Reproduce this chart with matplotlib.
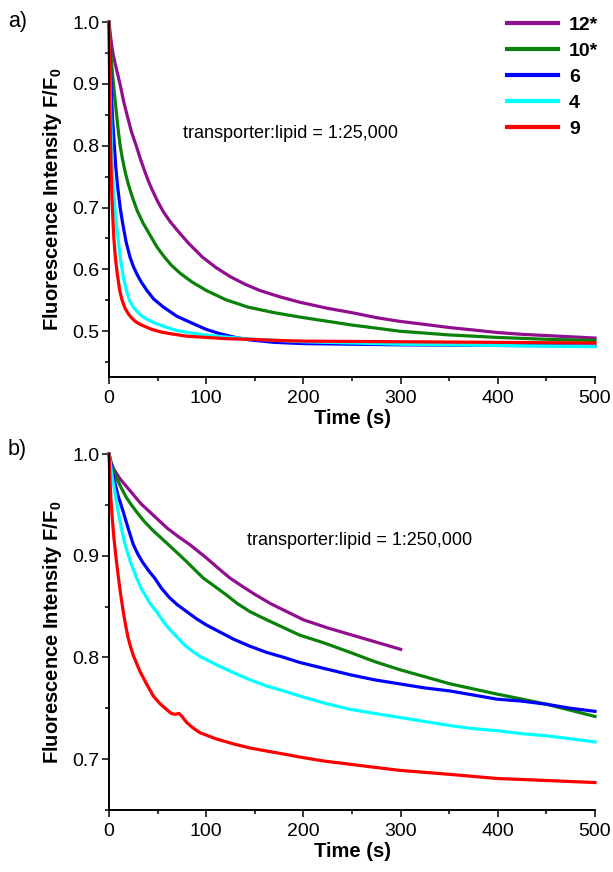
import matplotlib
matplotlib.use("Agg")
import matplotlib.pyplot as plt
from matplotlib.ticker import MultipleLocator

plt.rcParams['font.family'] = ['Liberation Sans', 'DejaVu Sans']
plt.rcParams['mathtext.fontset'] = 'custom'
plt.rcParams['mathtext.rm'] = 'Liberation Sans'
plt.rcParams['mathtext.bf'] = 'Liberation Sans:bold'

labels = ["12*", "10*", "6", "4", "9"]
colors = ["#8f0f8f", "#0a820a", "#0000ff", "#00ffff", "#ff0000"]

# Panel a (transporter:lipid = 1:25,000)
a_t_12 = [0, 1, 2.5, 4, 6, 9, 12, 15, 18.5, 23, 28, 32, 36, 40, 44, 50, 56, 63, 72, 82, 96, 110,
          125, 140, 155, 175, 196, 225, 250, 275, 299, 325, 350, 375, 399, 425, 450, 475, 500]
a_f_12 = [1.0, 0.985, 0.965, 0.95, 0.935, 0.915, 0.895, 0.872, 0.85, 0.823, 0.8, 0.78, 0.762,
          0.745, 0.73, 0.71, 0.693, 0.677, 0.66, 0.642, 0.62, 0.603, 0.588, 0.576, 0.566, 0.556,
          0.547, 0.537, 0.53, 0.522, 0.516, 0.511, 0.506, 0.502, 0.498, 0.495, 0.493, 0.491, 0.489]
a_t_10 = [0, 1, 2.5, 4, 5.5, 7.5, 9.5, 11.5, 14, 17, 20, 24, 29, 35, 42, 49, 56, 64, 73, 85, 100,
          120, 143, 170, 196, 225, 250, 275, 299, 325, 350, 375, 399, 450, 500]
a_f_10 = [1.0, 0.97, 0.935, 0.91, 0.885, 0.855, 0.825, 0.8, 0.777, 0.755, 0.737, 0.717, 0.695,
          0.675, 0.656, 0.637, 0.622, 0.607, 0.594, 0.58, 0.566, 0.551, 0.539, 0.53, 0.523, 0.516,
          0.51, 0.505, 0.5, 0.497, 0.494, 0.492, 0.49, 0.487, 0.485]
a_t_6 = [0, 1, 2, 3, 4, 5.5, 7, 9, 11.5, 14, 17.5, 21.6, 25, 28.5, 33, 39, 46, 56, 70, 87, 100,
         114, 130, 145, 170, 200, 250, 300, 400, 500]
a_f_6 = [1.0, 0.95, 0.905, 0.865, 0.835, 0.8, 0.765, 0.732, 0.7, 0.675, 0.645, 0.62, 0.605, 0.593,
         0.58, 0.566, 0.552, 0.539, 0.524, 0.512, 0.503, 0.496, 0.49, 0.486, 0.482, 0.48, 0.479,
         0.478, 0.477, 0.476]
a_t_4 = [0, 1, 2, 3, 4.5, 6, 8, 10, 12, 15, 18, 21, 25, 30, 35, 42, 49, 60, 70, 85, 104, 125, 150,
         200, 250, 300, 400, 500]
a_f_4 = [1.0, 0.9, 0.83, 0.78, 0.735, 0.7, 0.667, 0.64, 0.615, 0.585, 0.566, 0.55, 0.539, 0.53,
         0.523, 0.517, 0.512, 0.506, 0.501, 0.497, 0.493, 0.49, 0.487, 0.483, 0.481, 0.479, 0.477,
         0.475]
a_t_9 = [0, 0.5, 1, 1.5, 2.2, 3, 4, 5, 6.5, 8.5, 11, 13.5, 16.5, 20, 23, 27, 32, 38, 44, 53, 63, 80,
         100, 120, 145, 175, 200, 300, 400, 500]
a_f_9 = [1.0, 0.92, 0.86, 0.81, 0.76, 0.715, 0.68, 0.65, 0.62, 0.593, 0.566, 0.55, 0.537, 0.528,
         0.522, 0.516, 0.511, 0.507, 0.503, 0.499, 0.496, 0.492, 0.49, 0.488, 0.487, 0.485, 0.484,
         0.483, 0.482, 0.481]

# Panel b (transporter:lipid = 1:250,000)
b_t_12 = [0, 2, 5, 11, 18, 25, 33, 42, 51, 60, 71, 83, 100, 112, 124.5, 137, 150, 166, 183, 200,
          225, 250, 275, 300]
b_f_12 = [1.0, 0.992, 0.985, 0.976, 0.968, 0.96, 0.951, 0.943, 0.935, 0.927, 0.919, 0.911, 0.898,
          0.888, 0.878, 0.87, 0.862, 0.853, 0.845, 0.837, 0.829, 0.822, 0.815, 0.808]
b_t_10 = [0, 3, 8, 13, 18, 23, 28.5, 36, 45, 53, 61, 70, 80, 97, 110, 120, 132, 145, 160, 178,
          196, 222, 248, 273, 299, 325, 351, 375, 399, 425, 450, 475, 500]
b_f_10 = [1.0, 0.988, 0.976, 0.966, 0.957, 0.95, 0.943, 0.934, 0.925, 0.918, 0.911, 0.903, 0.894,
          0.878, 0.869, 0.862, 0.853, 0.845, 0.838, 0.83, 0.822, 0.814, 0.805, 0.796, 0.788,
          0.781, 0.774, 0.769, 0.764, 0.759, 0.754, 0.748, 0.742]
b_t_6 = [0, 2, 5, 9, 14.7, 20, 25, 30, 35, 41, 47, 54, 62, 70, 80, 90, 100, 114, 128, 145, 162,
         180, 196.5, 222, 248, 273, 299, 325, 351, 375, 399, 425, 450, 475, 500]
b_f_6 = [1.0, 0.99, 0.976, 0.96, 0.943, 0.926, 0.911, 0.901, 0.893, 0.885, 0.878, 0.868, 0.859,
         0.852, 0.845, 0.838, 0.832, 0.825, 0.818, 0.811, 0.805, 0.8, 0.795, 0.789, 0.783, 0.778,
         0.774, 0.77, 0.767, 0.763, 0.759, 0.757, 0.754, 0.75, 0.747]
b_t_4 = [0, 1.5, 3.5, 6.5, 9.5, 13, 16.5, 22, 28.5, 33, 38, 43, 49, 56, 62, 70, 78, 86, 93.6, 110,
         128, 145, 162, 180, 196.5, 222, 248, 273, 299, 325, 351, 375, 399, 425, 450, 475, 500]
b_f_4 = [1.0, 0.99, 0.976, 0.96, 0.943, 0.926, 0.911, 0.894, 0.878, 0.868, 0.86, 0.852, 0.845,
         0.835, 0.828, 0.82, 0.812, 0.806, 0.801, 0.793, 0.785, 0.778, 0.772, 0.767, 0.762, 0.755,
         0.749, 0.745, 0.741, 0.737, 0.733, 0.73, 0.728, 0.725, 0.723, 0.72, 0.717]
b_t_9 = [0, 1, 2, 3.5, 5, 7, 9.5, 12, 14.5, 17, 19.5, 22, 25, 28, 32, 38, 45.6, 52, 59, 64, 68,
         72, 75, 80, 86, 93.6, 110, 128, 145, 162, 180, 196.5, 222, 248, 273, 299, 325, 351, 375,
         399, 425, 450, 475, 500]
b_f_9 = [1.0, 0.975, 0.955, 0.935, 0.918, 0.9, 0.88, 0.862, 0.846, 0.832, 0.82, 0.811, 0.802,
         0.795, 0.786, 0.775, 0.762, 0.755, 0.749, 0.745, 0.744, 0.745, 0.742, 0.736, 0.731,
         0.726, 0.72, 0.715, 0.711, 0.708, 0.705, 0.702, 0.698, 0.695, 0.692, 0.689, 0.687,
         0.685, 0.683, 0.681, 0.68, 0.679, 0.678, 0.677]

panel_a = [(a_t_12, a_f_12), (a_t_10, a_f_10), (a_t_6, a_f_6), (a_t_4, a_f_4), (a_t_9, a_f_9)]
panel_b = [(b_t_12, b_f_12), (b_t_10, b_f_10), (b_t_6, b_f_6), (b_t_4, b_f_4), (b_t_9, b_f_9)]

W, H = 613, 872
fig = plt.figure(figsize=(W / 100, H / 100), dpi=100)

def ax_rect(left, right, top, bottom):
    return [left / W, 1 - bottom / H, (right - left) / W, (bottom - top) / H]

ax_a = fig.add_axes(ax_rect(109, 595, 22, 377))
ax_b = fig.add_axes(ax_rect(109, 595, 454, 810))

def style(ax, ymin):
    ax.set_xlim(0, 500)
    ax.set_ylim(ymin, 1.0)
    for s in ("top", "right"):
        ax.spines[s].set_visible(False)
    for s in ("left", "bottom"):
        ax.spines[s].set_linewidth(1.4)
    ax.xaxis.set_major_locator(MultipleLocator(100))
    ax.xaxis.set_minor_locator(MultipleLocator(50))
    ax.yaxis.set_major_locator(MultipleLocator(0.1))
    ax.yaxis.set_minor_locator(MultipleLocator(0.05))
    ax.tick_params(which="major", direction="out", length=5, width=1.1, labelsize=14, pad=2)
    ax.tick_params(which="minor", direction="out", length=3, width=1.1)
    ax.tick_params(axis="x", which="major", pad=4)
    ax.yaxis.set_major_formatter(matplotlib.ticker.FormatStrFormatter("%.1f"))
    ax.set_xlabel("Time (s)", fontsize=14.5, fontweight="bold", labelpad=2)
    ax.set_ylabel(r"Fluorescence Intensity F/F$_\mathbf{0}$", fontsize=14.5,
                  fontweight="bold", labelpad=6)

for (t, f), c, lab in zip(panel_a, colors, labels):
    ax_a.plot(t, f, color=c, lw=2.3, label=lab, clip_on=False, solid_joinstyle="round")
for (t, f), c, lab in zip(panel_b, colors, labels):
    ax_b.plot(t, f, color=c, lw=2.3, label=lab, clip_on=False, solid_joinstyle="round")

style(ax_a, 0.426)
style(ax_b, 0.65)

ax_a.text(0.152, 0.685, "transporter:lipid = 1:25,000", transform=ax_a.transAxes,
          fontsize=13, ha="left", va="center")
ax_b.text(0.283, 0.758, "transporter:lipid = 1:250,000", transform=ax_b.transAxes,
          fontsize=13, ha="left", va="center")

fig.text(8 / W, 1 - 22 / H, "a)", fontsize=15.5, ha="left", va="center")
fig.text(8 / W, 1 - 450 / H, "b)", fontsize=15.5, ha="left", va="center")

leg = ax_a.legend(loc="upper left", bbox_to_anchor=(507 / W, 1 - 16 / H),
                  bbox_transform=fig.transFigure, frameon=False, borderpad=0,
                  borderaxespad=0, handlelength=2.63, handletextpad=0.57,
                  labelspacing=0.44, prop={"weight": "bold", "size": 14})
for line in leg.get_lines():
    line.set_linewidth(3)

fig.savefig("out.png", dpi=100)
